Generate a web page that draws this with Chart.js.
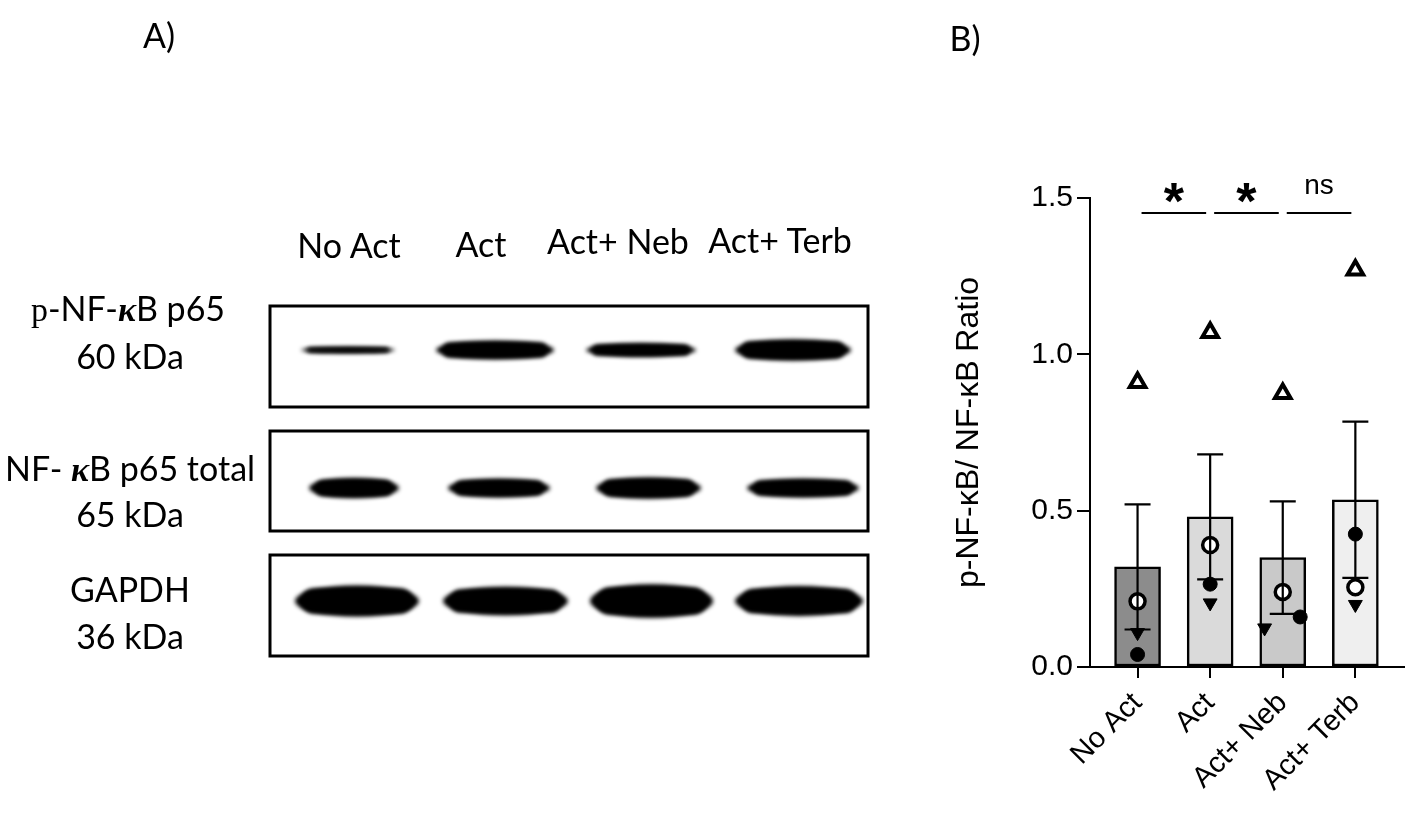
<!DOCTYPE html>
<html>
<head>
<meta charset="utf-8">
<script src="https://cdn.jsdelivr.net/npm/chart.js@4.4.0/dist/chart.umd.min.js"></script>
<style>
  body { margin: 0; width: 1417px; height: 813px; background: #fff; position: relative; overflow: hidden; font-family: Lato, sans-serif; color: #000 }
  #blot { position: absolute; left: 0; top: 0 }
  .t { position: absolute; font-size: 34px; white-space: nowrap; transform: translate(-50%, -50%); line-height: 1 }
  .k { font-family: "Liberation Serif", serif; font-weight: bold; font-style: italic }
  .s { font-family: "Liberation Serif", serif }
  #wrap { position: absolute; left: 900px; top: 150px; width: 517px; height: 663px }
</style>
</head>
<body>
<canvas id="blot" width="1417" height="813"></canvas>

<div class="t" style="left:159px;top:35px">A)</div>
<div class="t" style="left:965px;top:38px">B)</div>

<div class="t" style="left:349px;top:245px">No Act</div>
<div class="t" style="left:481px;top:244px">Act</div>
<div class="t" style="left:618px;top:241px">Act+ Neb</div>
<div class="t" style="left:780px;top:240px">Act+ Terb</div>

<div class="t" style="left:128px;top:309px"><span class="s">p</span>-NF-<span class="k">κ</span>B p65</div>
<div class="t" style="left:130px;top:356px">60 kDa</div>
<div class="t" style="left:130px;top:469px">NF- <span class="k">κ</span>B p65 total</div>
<div class="t" style="left:130px;top:514px">65 kDa</div>
<div class="t" style="left:130px;top:589px">GAPDH</div>
<div class="t" style="left:130px;top:636px">36 kDa</div>

<div id="wrap"><canvas id="chart" width="517" height="663"></canvas></div>

<script>
// panel B data
const groups = ["No Act", "Act", "Act+ Neb", "Act+ Terb"]
const means = [0.32, 0.48, 0.35, 0.535]
const sds = [0.2, 0.2, 0.18, 0.25]
const triUp = [0.91, 1.07, 0.875, 1.27]
const openCircle = [0.21, 0.39, 0.24, 0.255]
const filledCircle = [0.04, 0.265, 0.16, 0.425]
const triDown = [0.11, 0.205, 0.125, 0.2]
const filledCircleJitter = [0, 0, 0.24, 0]
const triDownJitter = [0, 0, -0.25, 0]
const yTicks = [0, 0.5, 1.0, 1.5]
const comparisons = [[0, 1, "*"], [1, 2, "*"], [2, 3, "ns"]]
const barColors = ["#8c8c8c", "#dadada", "#c9c9c9", "#efefef"]

// panel A blot layout (left, right, thickness per band)
const boxTops = [306, 431, 555]
const boxBottoms = [407, 531, 656]
const bandY = [350, 488, 601]
const bandLeft = [[301, 436, 586, 735], [309, 448, 596, 747], [295, 443, 590, 735]]
const bandRight = [[395, 554, 696, 851], [399, 550, 701, 859], [419, 568, 713, 863]]
const bandThick = [[5, 15, 11, 17], [16, 15, 17, 15], [25, 23, 27, 24]]

function drawBlot() {
  const ctx = document.getElementById("blot").getContext("2d")
  boxTops.forEach((top, r) => {
    ctx.filter = "blur(2px)"
    ctx.fillStyle = "#000"
    for (let i = 0; i < 4; i++) {
      const h = bandThick[r][i]
      const x0 = bandLeft[r][i], x1 = bandRight[r][i]
      ctx.beginPath()
      ctx.ellipse((x0 + x1) / 2, bandY[r], (x1 - x0) / 2, h * 0.62, 0, 0, Math.PI * 2)
      ctx.fill()
      ctx.beginPath()
      ctx.roundRect(x0 + 6, bandY[r] - h / 2, x1 - x0 - 12, h, h / 2)
      ctx.fill()
    }
    ctx.filter = "none"
    ctx.strokeStyle = "#000"
    ctx.lineWidth = 3
    ctx.strokeRect(270, top, 598, boxBottoms[r] - top)
  })
}
drawBlot()

const pts = (vals, jit) => vals.map((v, i) => ({ x: i + (jit ? jit[i] : 0), y: v }))

const errorBars = {
  id: "errorBars",
  afterDatasetsDraw(chart) {
    const { ctx, scales: { x, y } } = chart
    ctx.save()
    ctx.strokeStyle = "#000"
    ctx.lineWidth = 2.2
    means.forEach((m, i) => {
      const px = x.getPixelForValue(i)
      const top = y.getPixelForValue(m + sds[i])
      const bot = y.getPixelForValue(m - sds[i])
      ctx.beginPath()
      ctx.moveTo(px, top); ctx.lineTo(px, bot)
      ctx.moveTo(px - 13, top); ctx.lineTo(px + 13, top)
      ctx.moveTo(px - 13, bot); ctx.lineTo(px + 13, bot)
      ctx.stroke()
    })
    ctx.restore()
  }
}

const significance = {
  id: "significance",
  afterDraw(chart) {
    const { ctx, scales: { x, y } } = chart
    const ly = y.getPixelForValue(1.452)
    ctx.save()
    ctx.strokeStyle = "#000"
    ctx.fillStyle = "#000"
    ctx.lineWidth = 2.2
    ctx.textAlign = "center"
    comparisons.forEach(([a, b, label]) => {
      const xa = x.getPixelForValue(a) + 4
      const xb = x.getPixelForValue(b) - 4
      ctx.beginPath()
      ctx.moveTo(xa, ly); ctx.lineTo(xb, ly)
      ctx.stroke()
      if (label === "*") {
        ctx.font = "bold 52px 'Liberation Sans'"
        ctx.textBaseline = "alphabetic"
        ctx.fillText(label, (xa + xb) / 2, ly + 6)
      } else {
        ctx.font = "28px 'Liberation Sans'"
        ctx.textBaseline = "middle"
        ctx.fillText(label, (xa + xb) / 2, ly - 27)
      }
    })
    ctx.restore()
  }
}

const axisFont = { family: "'Liberation Sans', Arial, sans-serif", size: 30 }

new Chart(document.getElementById("chart"), {
  type: "bar",
  data: {
    datasets: [
      {
        type: "bar",
        data: pts(means),
        backgroundColor: barColors,
        borderColor: "#000",
        borderWidth: 2.5,
        borderSkipped: false,
        barThickness: 46,
        order: 5
      },
      {
        type: "scatter",
        data: pts(triUp),
        pointStyle: "triangle",
        pointRadius: 9,
        backgroundColor: "#fff",
        borderColor: "#000",
        borderWidth: 4,
        order: 1
      },
      {
        type: "scatter",
        data: pts(openCircle),
        pointStyle: "circle",
        pointRadius: 7.5,
        backgroundColor: "#fff",
        borderColor: "#000",
        borderWidth: 3.5,
        order: 2
      },
      {
        type: "scatter",
        data: pts(filledCircle, filledCircleJitter),
        pointStyle: "circle",
        pointRadius: 7,
        backgroundColor: "#000",
        borderColor: "#000",
        borderWidth: 1,
        order: 3
      },
      {
        type: "scatter",
        data: pts(triDown, triDownJitter),
        pointStyle: "triangle",
        rotation: 180,
        pointRadius: 8,
        backgroundColor: "#000",
        borderColor: "#000",
        borderWidth: 1,
        order: 4
      }
    ]
  },
  options: {
    responsive: false,
    animation: false,
    layout: { padding: { top: 48, right: 10, left: 0, bottom: 0 } },
    plugins: { legend: { display: false }, tooltip: { enabled: false } },
    scales: {
      x: {
        type: "linear",
        min: -0.655,
        max: 3.67,
        offset: false,
        afterBuildTicks: (s) => { s.ticks = groups.map((g, i) => ({ value: i })) },
        afterFit: (s) => { s.height = 146 },
        ticks: {
          callback: (v) => groups[v],
          minRotation: 45,
          maxRotation: 45,
          autoSkip: false,
          color: "#000",
          padding: 8,
          font: { family: axisFont.family, size: 29 }
        },
        grid: { drawOnChartArea: false, offset: false, color: "#000", lineWidth: 2, tickLength: 11 },
        border: { color: "#000", width: 2 }
      },
      y: {
        min: 0,
        max: 1.5,
        afterBuildTicks: (s) => { s.ticks = yTicks.map((v) => ({ value: v })) },
        afterFit: (s) => { s.width = 190 },
        ticks: { callback: (v) => v.toFixed(1), color: "#000", padding: 4, font: axisFont },
        grid: { drawOnChartArea: false, color: "#000", lineWidth: 2, tickLength: 13 },
        border: { color: "#000", width: 2 },
        title: {
          display: true,
          text: "p-NF-κB/ NF-κB Ratio",
          color: "#000",
          font: { family: axisFont.family, size: 32 },
          padding: { top: 50, bottom: 0 }
        }
      }
    }
  },
  plugins: [errorBars, significance]
})
</script>
</body>
</html>
